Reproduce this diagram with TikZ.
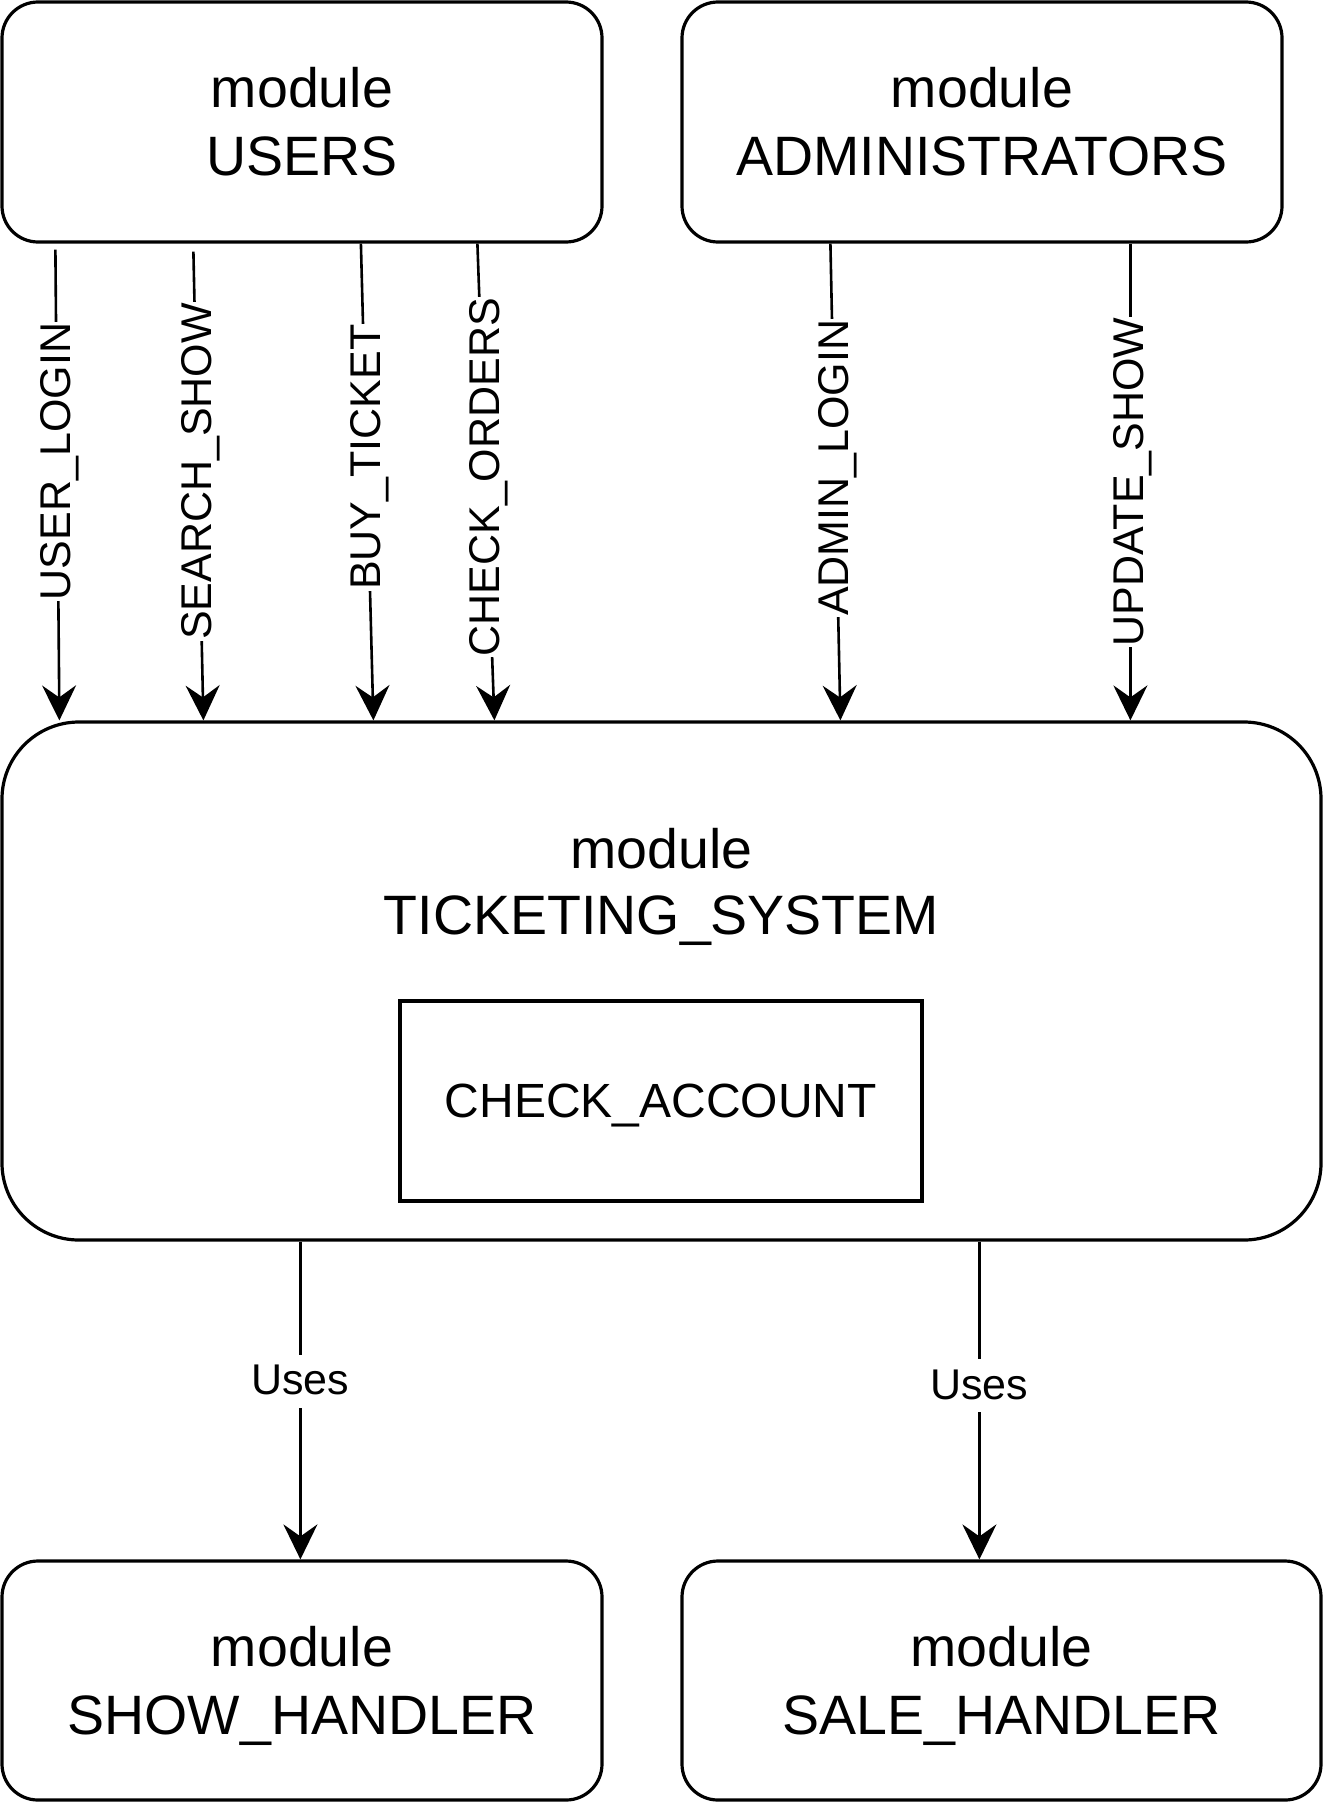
\documentclass[tikz,border=0pt]{standalone}
\usepackage{fontspec}
\setmainfont{Liberation Sans}
\usetikzlibrary{arrows.meta,calc}
\begin{document}
\begin{tikzpicture}[x=1pt,y=-1pt,
  box/.style={draw, line width=3.2pt, rounded corners=36pt, align=center, inner sep=0pt, font=\fontsize{55.5}{68}\selectfont},
  plainbox/.style={draw, line width=3.2pt, align=center, inner sep=0pt, font=\fontsize{48}{58}\selectfont},
  arr/.style={line width=2.6pt, -{Stealth[length=35pt,width=34pt,inset=12pt]}},
  lbl/.style={fill=white, font=\fontsize{43}{52}\selectfont, inner xsep=1pt, inner ysep=0pt, text height=40pt, text depth=13pt},
]
\useasboundingbox (0,0) rectangle (1324,1804);
% boxes
\node[box, minimum width=600pt, minimum height=240pt] (users) at (302,122) {module\\USERS};
\node[box, minimum width=600pt, minimum height=240pt] (admins) at (982,122) {module\\ADMINISTRATORS};
\node[box, rounded corners=77pt, minimum width=1319pt, minimum height=518pt] (ts) at (661.5,981) {};
\node[font=\fontsize{55.5}{66}\selectfont, align=center, inner sep=0pt, text depth=0pt] (tstitle) at (661.5,881) {module\\TICKETING\_SYSTEM};
\node[plainbox, minimum width=522pt, minimum height=200pt, text depth=0pt] (ca) at (661,1101) {CHECK\_ACCOUNT};
\node[box, minimum width=600pt, minimum height=239pt, text depth=0pt] (show) at (302,1680.5) {module\\SHOW\_HANDLER};
\node[box, minimum width=639pt, minimum height=239pt, text depth=0pt] (sale) at (1001.5,1680.5) {module\\SALE\_HANDLER};
% input connectors
\draw[arr] ([xshift=55pt,yshift=-6pt]users.south west) -- ([xshift=59pt]ts.north west)
  node[lbl, rotate=90, pos=0.45] {USER\_LOGIN};
\draw[arr] ([xshift=193pt,yshift=-8pt]users.south west) -- ([xshift=203pt]ts.north west)
  node[lbl, rotate=90, pos=0.469] {SEARCH\_SHOW};
\draw[arr] ([xshift=360.5pt]users.south west) -- ([xshift=373pt]ts.north west)
  node[lbl, rotate=90, pos=0.448] {BUY\_TICKET};
\draw[arr] ([xshift=477pt]users.south west) -- ([xshift=494pt]ts.north west)
  node[lbl, rotate=90, pos=0.49] {CHECK\_ORDERS};
\draw[arr] ([xshift=150pt]admins.south west) -- ([xshift=840pt]ts.north west)
  node[lbl, rotate=90, pos=0.47] {ADMIN\_LOGIN};
\draw[arr] ([xshift=450pt]admins.south west) -- ([xshift=1130pt]ts.north west)
  node[lbl, rotate=90, pos=0.5] {UPDATE\_SHOW};
% uses connectors
\draw[arr] ([xshift=300pt]ts.south west) -- ([xshift=300pt]show.north west)
  node[lbl, pos=0.44] {Uses};
\draw[arr] ([xshift=979pt]ts.south west) -- ([xshift=299pt]sale.north west)
  node[lbl, pos=0.453] {Uses};
\end{tikzpicture}
\end{document}
